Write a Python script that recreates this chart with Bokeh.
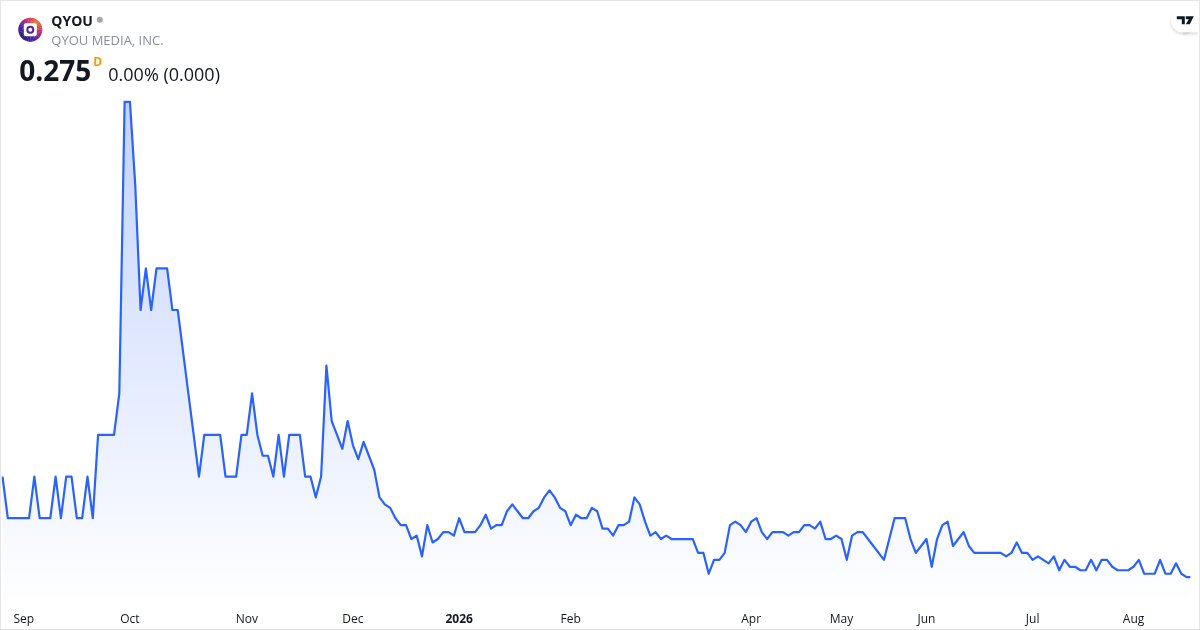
import numpy as np
from bokeh.plotting import figure
from bokeh.models import FixedTicker, Range1d, LinearAxis, Label
from bokeh.embed import file_html
from bokeh.resources import INLINE

tick_positions = [4, 24, 46, 66, 86, 107, 141, 158, 174, 194, 213]
tick_labels = ["Sep", "Oct", "Nov", "Dec", "", "Feb", "Apr", "May", "Jun", "Jul", "Aug"]
year_tick = 86
year_label = "2026"

close = [
 .304, .292, .292, .292, .292, .292, .304, .292, .292, .292,
 .304, .292, .304, .304, .292, .292, .304, .292, .316, .316,
 .316, .316, .328, .412, .412, .388, .352, .364, .352, .364,
 .364, .364, .352, .352, .340, .328, .316, .304, .316, .316,
 .316, .316, .304, .304, .304, .316, .316, .328, .316, .310,
 .310, .304, .316, .304, .316, .316, .316, .304, .304, .298,
 .304, .336, .320, .316, .312, .320, .313, .309, .314, .310,
 .306, .298, .296, .295, .292, .290, .290, .286, .287, .281,
 .290, .285, .286, .288, .288, .287, .292, .288, .288, .288,
 .290, .293, .289, .290, .290, .294, .296, .294, .292, .292,
 .294, .295, .298, .300, .298, .295, .294, .290, .293, .292,
 .292, .295, .294, .289, .289, .287, .290, .290, .291, .298,
 .296, .291, .287, .288, .286, .287, .286, .286, .286, .286,
 .286, .282, .282, .276, .280, .280, .282, .290, .291, .290,
 .288, .291, .292, .288, .286, .288, .288, .288, .287, .288,
 .288, .290, .290, .289, .291, .286, .286, .287, .286, .280,
 .287, .288, .288, .286, .284, .282, .280, .286, .292, .292,
 .292, .286, .282, .284, .286, .278, .286, .290, .291, .284,
 .286, .288, .284, .282, .282, .282, .282, .282, .282, .281,
 .282, .285, .282, .282, .280, .281, .280, .279, .281, .277,
 .280, .278, .278, .277, .277, .280, .277, .280, .280, .278,
 .277, .277, .277, .278, .280, .276, .276, .276, .280, .276,
 .276, .279, .276, .275, .275,
]

W, H = 1198, 628
BOTTOM = 28
STEP = 5.31
PX_PER = 3470.0
FONT = "Open Sans"

x = np.arange(len(close), dtype=float)
x[-1] -= 0.3
y = np.array(close)

def X(px):
    return (px - 2.7) / STEP
def Y(py):
    return 0.275 + (578 - py) / PX_PER

x0 = X(1.7)
x1 = X(1.7 + W)
y_top = Y(2.3)
y_bot = Y(2.3 + H - BOTTOM)

p = figure(width=W, height=H, output_backend="svg", toolbar_location=None,
           x_range=Range1d(x0, x1), y_range=Range1d(y_bot, y_top),
           min_border_left=0, min_border_right=0, min_border_top=0, min_border_bottom=BOTTOM,
           background_fill_color="white", border_fill_color="white",
           styles={"position": "fixed", "left": "1px", "top": "1px",
                   "outline": "1px solid #e6e6e6"})
p.outline_line_color = None
p.grid.visible = False
p.yaxis.visible = False

def style_axis(a, standoff):
    a.axis_line_color = None
    a.major_tick_line_color = None
    a.minor_tick_line_color = None
    a.major_tick_out = 0
    a.major_tick_in = 0
    a.minor_tick_out = 0
    a.major_label_text_font = FONT
    a.major_label_text_font_size = "12px"
    a.major_label_text_color = "#131722"
    a.major_label_standoff = standoff

ax = p.xaxis[0]
ax.ticker = FixedTicker(ticks=tick_positions)
ax.major_label_overrides = {t: l for t, l in zip(tick_positions, tick_labels)}
style_axis(ax, 8)

ax2 = LinearAxis(ticker=FixedTicker(ticks=[year_tick]), major_label_overrides={year_tick: year_label})
style_axis(ax2, -16)
ax2.major_label_text_font_style = "bold"
p.add_layout(ax2, "below")

# gradient under the line: opaque bands, masked above the curve
N = 110
edges = np.linspace(y_bot, y.max() + 0.002, N + 1)
fr = (edges[:-1] + edges[1:]) / 2
a = np.clip((fr - y_bot) / (y.max() - y_bot) * 0.28, 0, 0.28)
cols = ["#%02x%02x%02x" % (round(255 - (255 - 41) * t), round(255 - (255 - 98) * t), 255) for t in a]
p.quad(left=x[0], right=x[-1], bottom=edges[:-1], top=edges[1:] + 0.0003, fill_color=cols, line_color=None)
mask_x = np.r_[x[0] - 2, x, x[-1] + 2]
mask_y = np.r_[y[0], y, y[-1]]
p.varea(x=mask_x, y1=mask_y, y2=y_top, fill_color="white")
p.line(x, y, line_color="#2962FF", line_width=2.2, line_join="round")

def text(px, py, s, size, color, style="normal"):
    # px = left edge, py = vertical middle, in page pixels
    p.add_layout(Label(x=X(px + 0.5), y=Y(py), text=s, text_font=FONT, text_font_size=size,
                       text_color=color, text_font_style=style, text_baseline="middle"))

text(51, 21, "QYOU", "14px", "#131722", "bold")
text(51, 41, "QYOU MEDIA, INC.", "13px", "#8a8e99")
text(19, 71, "0.275", "28px", "#131722", "bold")
text(93, 62, "D", "12px", "#ff9800", "bold")
text(108, 74.5, "0.00% (0.000)", "18px", "#131722")

# status dot
p.scatter([X(100)], [Y(20.5)], size=6, marker="circle", fill_color="#a3a6af", line_color=None)

# logo: ring of colours from orange to deep blue
cx, cy = X(30.5), Y(30.5)
n = 36
stops = np.array([[240, 120, 50], [190, 50, 110], [70, 30, 170], [35, 25, 120]], float)
for k in range(n):
    start = 2 * np.pi * k / n
    d = abs(((start - np.pi / 4 + np.pi) % (2 * np.pi)) - np.pi) / np.pi * 3
    j = min(int(d), 2)
    c = stops[j] + (stops[j + 1] - stops[j]) * (d - j)
    p.wedge([cx], [cy], radius=12, radius_units="screen", start_angle=start, end_angle=start + 2 * np.pi / n + 0.02,
            fill_color="#%02x%02x%02x" % tuple(int(v) for v in c), line_color=None)
p.scatter([cx], [cy], size=9, marker="square", fill_color="white", line_color="white", line_width=4, line_join="round")
p.scatter([cx], [cy], size=6, marker="circle", fill_color=None, line_color="#4a2aa8", line_width=2)

# TV logo pill
for grow, al in ((4, 0.02), (2, 0.03), (0, 0.04)):
    p.scatter([X(1183)], [Y(23)], size=24 + grow, marker="circle", fill_color="black", fill_alpha=al, line_color=None)
    p.quad(left=[X(1183)], right=[X(1198)], bottom=[Y(35 + grow / 2)], top=[Y(11 - grow / 2)],
           fill_color="black", fill_alpha=al, line_color=None)
p.scatter([X(1183)], [Y(21)], size=24, marker="circle", fill_color="white", line_color=None)
p.quad(left=[X(1183)], right=[X(1199)], bottom=[Y(33)], top=[Y(9)], fill_color="white", line_color=None)
p.patch([X(v) for v in (1177, 1185, 1185, 1182, 1182, 1177)],
        [Y(v) for v in (17, 17, 25, 25, 20, 20)], fill_color="#131722", line_color=None)
p.patch([X(v) for v in (1186, 1194, 1190, 1186, 1189, 1186)],
        [Y(v) for v in (17, 17, 25, 25, 20, 20)], fill_color="#131722", line_color=None)

open("out.html", "w").write(file_html(p, INLINE))
